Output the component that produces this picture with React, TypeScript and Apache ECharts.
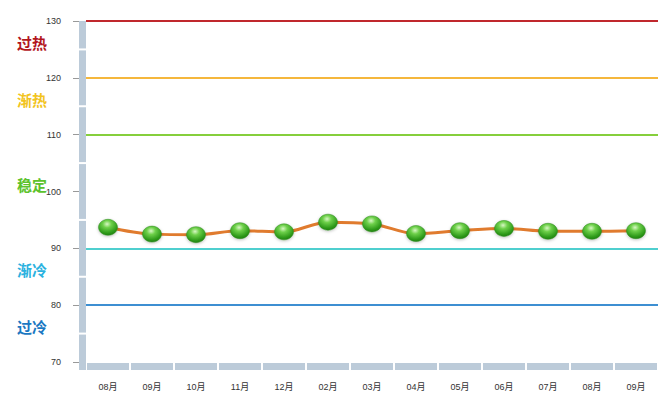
import React, { useEffect, useRef } from "react";
import * as echarts from "echarts";

const categories = ["08月", "09月", "10月", "11月", "12月", "02月", "03月", "04月", "05月", "06月", "07月", "08月", "09月"];
const values = [93.7, 92.5, 92.4, 93.1, 92.9, 94.6, 94.3, 92.6, 93.1, 93.5, 93.0, 93.0, 93.1];

const yMin = 70;
const yMax = 130;
const yInterval = 10;

// threshold lines
const thresholdValues = [130, 120, 110, 90, 80];
const thresholdColors = ["#c0282d", "#f5b73c", "#86cf3c", "#4fcfcf", "#3d8fd2"];

// zone labels (value positions where labels sit)
const zoneNames = ["过热", "渐热", "稳定", "渐冷", "过冷"];
const zoneValues = [126.2, 116.2, 101.3, 86.2, 76.2];
const zoneColors = ["#b2161d", "#f2c41e", "#5cc22c", "#2bb2df", "#1a78c2"];

// left bar segment boundaries (value units)
const yBarBounds = [130, 125, 115, 105, 95, 85, 75, 70];

const barColor = "#bccbd9";

export default function App() {
  const ref = useRef<HTMLDivElement>(null);

  useEffect(() => {
    if (!ref.current) return;
    const chart = echarts.init(ref.current, null, { renderer: "svg" });

    const ySegs = [];
    for (let i = 0; i < yBarBounds.length - 1; i++) {
      ySegs.push([0, yBarBounds[i], yBarBounds[i + 1], i === yBarBounds.length - 2 ? 1 : 0]);
    }

    const option: any = {
      animation: false,
      grid: { left: 86, right: 8, top: 21, bottom: 37 },
      xAxis: {
        type: "category",
        data: categories,
        boundaryGap: true,
        axisLine: { show: false },
        axisTick: { show: false },
        axisLabel: { color: "#333", fontSize: 9, margin: 20, fontFamily: "Arial, 'Noto Sans CJK SC'" },
        splitLine: { show: false },
      },
      yAxis: {
        type: "value",
        min: yMin,
        max: yMax,
        interval: yInterval,
        offset: 7,
        axisLine: { show: false },
        axisTick: { show: true, length: 6, lineStyle: { color: "#999", width: 1 } },
        axisLabel: { color: "#333", fontSize: 9, margin: 18, fontFamily: "Arial, sans-serif" },
        splitLine: { show: false },
      },
      series: [
        {
          type: "line",
          data: values,
          smooth: 0.35,
          z: 5,
          lineStyle: { color: "#e07b2e", width: 3 },
          symbol: "circle",
          symbolSize: [19, 16],
          itemStyle: {
            color: {
              type: "radial",
              x: 0.45,
              y: 0.3,
              r: 0.75,
              colorStops: [
                { offset: 0, color: "#d8f7c4" },
                { offset: 0.3, color: "#6ed04a" },
                { offset: 0.75, color: "#2e9a1a" },
                { offset: 1, color: "#1f7a12" },
              ],
            },
            borderColor: "#2f8a1e",
            borderWidth: 0.5,
            shadowColor: "rgba(0,0,0,0.25)",
            shadowBlur: 3,
            shadowOffsetY: 1,
          },
          markLine: {
            silent: true,
            symbol: "none",
            label: { show: false },
            z: 2,
            data: thresholdValues.map((v, i) => ({
              yAxis: v,
              lineStyle: { color: thresholdColors[i], width: 2, type: "solid" },
            })),
          },
        },
        {
          type: "custom",
          z: 10,
          silent: true,
          clip: false,
          data: ySegs,
          encode: { x: 0, y: [1, 2] },
          renderItem: (params: any, api: any) => {
            const top = api.coord([0, api.value(1)]);
            const bot = api.coord([0, api.value(2)]);
            const band = api.size([1, 0])[0];
            const left = top[0] - band / 2;
            const isLast = api.value(3) === 1;
            const y0 = top[1] + (api.value(1) === yMax ? 0 : 1);
            const y1 = bot[1] - 1 + (isLast ? 9 : 0);
            return {
              type: "rect",
              shape: { x: left - 7, y: y0, width: 7, height: y1 - y0 },
              style: { fill: barColor },
            };
          },
        },
        {
          type: "custom",
          z: 10,
          silent: true,
          clip: false,
          data: categories.map((_, i) => [i, yMin]),
          encode: { x: 0, y: 1 },
          renderItem: (params: any, api: any) => {
            const p = api.coord([api.value(0), api.value(1)]);
            const band = api.size([1, 0])[0];
            return {
              type: "rect",
              shape: { x: p[0] - band / 2 + 1, y: p[1] + 1, width: band - 2, height: 7 },
              style: { fill: barColor },
            };
          },
        },
        {
          type: "custom",
          z: 10,
          silent: true,
          clip: false,
          data: zoneValues.map((v, i) => [0, v, i]),
          encode: { x: 0, y: 1 },
          renderItem: (params: any, api: any) => {
            const p = api.coord([0, api.value(1)]);
            const band = api.size([1, 0])[0];
            const idx = api.value(2);
            return {
              type: "text",
              x: p[0] - band / 2 - 69,
              y: p[1],
              style: {
                text: zoneNames[idx],
                fill: zoneColors[idx],
                font: "bold 15px 'Noto Sans CJK SC', sans-serif",
                textAlign: "left",
                textVerticalAlign: "middle",
              },
            };
          },
        },
      ],
    };

    chart.setOption(option);
    return () => chart.dispose();
  }, []);

  return (
    <div
      ref={ref}
      style={{ position: "fixed", left: 0, top: 0, width: 666, height: 399, background: "#fff" }}
    />
  );
}
